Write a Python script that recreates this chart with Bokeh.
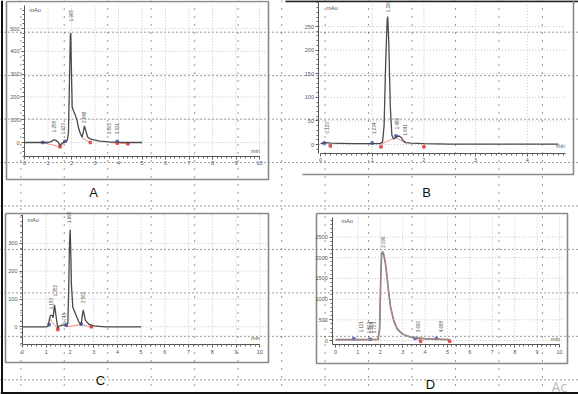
import numpy as np
from bokeh.plotting import figure
from bokeh.models import Range1d, LinearAxis, FixedTicker
from bokeh.core.properties import value
from bokeh.embed import file_html
from bokeh.resources import INLINE

# ---------------- data ----------------
a_time = [0, 1.0, 1.15, 1.25, 1.35, 1.45, 1.5, 1.58, 1.67, 1.75, 1.82, 1.87, 1.91, 1.95, 1.97, 2.0,
          2.03, 2.1, 2.17, 2.24, 2.31, 2.38, 2.45, 2.5, 2.55, 2.6, 2.69, 2.8, 2.95, 3.2, 3.6, 4.0, 4.5, 5.0]
a_mau = [0, 0, 5, 12, 9, 0, -13, -5, 1, 4, 10, 40, 250, 470, 480, 300,
         155, 135, 118, 95, 60, 38, 23, 45, 73, 55, 23, 16, 12, 6, 3, 1, 0, 0]
a_peak_rt = [1.25, 1.62, 1.96, 2.55, 3.60, 3.92]
a_peak_lbl = ["1.258", "1.623", "1.965", "2.548", "3.605", "3.921"]
a_peak_lbl_y = [70, 61, 557, 110, 61, 61]

b_time = [0, 0.1, 0.2, 0.6, 1.0, 1.15, 1.2, 1.23, 1.26, 1.29, 1.30, 1.32, 1.35, 1.38, 1.41,
          1.44, 1.48, 1.52, 1.56, 1.6, 1.65, 1.75, 2.0, 2.5, 3.0, 3.5, 4.0, 4.6]
b_mau = [2, 4, 3, 2, 2, 2, 5, 40, 170, 265, 271, 220, 80, 20, 12,
         13, 17, 18, 15, 8, 4, 3, 2, 1, 1, 1, 1, 1]
b_peak_rt = [0.12, 1.03, 1.296, 1.48, 1.64]
b_peak_lbl = ["0.123", "1.034", "1.296", "1.482", "1.641"]
b_peak_lbl_y = [35, 34, 292, 44, 31]

c_time = [0, 1.0, 1.08, 1.14, 1.18, 1.25, 1.29, 1.35, 1.42, 1.49, 1.53, 1.67, 1.84, 1.91, 1.95, 1.98,
          2.01, 2.04, 2.06, 2.12, 2.23, 2.37, 2.47, 2.52, 2.56, 2.65, 2.79, 3.0, 3.5, 5.0]
c_mau = [0, 0, 2, 29, 41, 41, 33, 79, 35, -7, 2, 6, 6, 12, 150, 300,
         349, 250, 155, 70, 47, 18, 7, 40, 61, 23, 10, 3, 0, 0]
c_peak_rt = [1.18, 1.35, 1.75, 1.96, 2.56]
c_peak_lbl = ["1.183", "1.352", "1.748", "1.995", "2.561"]
c_peak_lbl_y = [83, 130, 29, 394, 106]

d_time = [0, 1.0, 1.9, 1.97, 2.02, 2.06, 2.1, 2.15, 2.22, 2.3, 2.38, 2.46, 2.6, 2.75, 2.98, 3.35,
          3.95, 4.5, 5.1]
d_mau = [20, 20, 25, 300, 1500, 2100, 2150, 2080, 1900, 1550, 1130, 805, 480, 280, 160, 80,
         45, 30, 20]
d_peak_rt = [1.12, 1.5, 1.6, 1.7, 2.1, 3.69, 4.69]
d_peak_lbl = ["1.121", "1.502", "1.604", "1.703", "2.096", "3.690", "4.688"]
d_peak_lbl_y = [338, 314, 314, 314, 2375, 338, 338]

# integration baselines and markers
a_base_x = [[0.78, 1.51], [1.51, 1.75], [2.45, 2.8], [3.6, 4.4]]
a_base_y = [[0, -19], [-19, 3], [20, 0], [0, -6]]
a_start_x, a_start_y = [0.78, 1.72, 3.95], [0, 5, 5]
a_end_x, a_end_y = [1.51, 2.8, 3.95, 4.4], [-19, 0, -3, -6]

b_base_x = [[1.17, 1.45], [1.45, 1.65]]
b_base_y = [[0, 15], [15, 3]]
b_start_x, b_start_y = [0.07, 1.0, 1.46], [3, 3, 18]
b_end_x, b_end_y = [0.19, 1.17, 2.0], [-3, -5, -5]

c_base_x = [[1.14, 1.49], [1.84, 2.47], [2.47, 2.9]]
c_base_y = [[29, -8], [0, 8], [8, 0]]
c_start_x, c_start_y = [1.12, 1.84, 2.47], [8, 6, 10]
c_end_x, c_end_y = [1.49, 2.9], [-10, 0]

d_base_x = [[1.55, 1.95], [3.55, 3.8], [4.5, 5.1]]
d_base_y = [[30, 25], [50, 20], [50, 20]]
d_start_x, d_start_y = [0.82, 1.55, 3.55, 4.5], [40, 30, 50, 50]
d_end_x, d_end_y = [3.8, 5.1], [-20, -20]

x_ticks_10 = list(range(0, 11))
x_ticks_b = [0, 1, 2, 3, 4]
a_yticks = [0, 100, 200, 300, 400, 500]
b_yticks = [0, 50, 100, 150, 200, 250]
c_yticks = [0, 100, 200, 300]
d_yticks = [0, 500, 1000, 1500, 2000, 2500]

# ---------------- layout (page pixel geometry) ----------------
W, H = 578, 394
PX0, PX1, PY0, PY1 = 0, 578, 0, 394   # page pixels covered by the frame

p = figure(width=W, height=H, x_range=Range1d(PX0, PX1), y_range=Range1d(PY1, PY0),
           x_axis_type=None, y_axis_type=None, toolbar_location=None, output_backend="svg",
           min_border=0, outline_line_color=None, background_fill_color="white",
           border_fill_color="white")

# page dotted grid
gx = 20.3 + 43.47 * np.arange(13)
gy = 31.7 + 43.45 * np.arange(9)
p.segment(x0=gx, y0=[0] * len(gx), x1=gx, y1=[394] * len(gx), line_color="#222222",
          line_width=1, line_dash="1 7", line_alpha=0.9)
p.segment(x0=[0] * len(gy), y0=gy, x1=[578] * len(gy), y1=gy, line_color="#222222",
          line_width=1, line_dash="1 3", line_alpha=0.9)

# scanned page edges and watermark
p.line([1.5, 1.5], [0, 394], line_color="#111111", line_width=2)
p.line([0, 578], [392.5, 392.5], line_color="#111111", line_width=2)
p.line([285, 578], [0.8, 0.8], line_color="#222222", line_width=2)

FONT = "Liberation Sans"
p.text(x=[551], y=[386], text=["Ac"], text_font=value("Open Sans"), text_font_size="14px",
       text_color="#bdbdbd", text_align="left", text_baseline="alphabetic")

panels = [
    dict(n="A", t=a_time, y=a_mau, lt=a_peak_rt, lb=a_peak_lbl, ly=a_peak_lbl_y,
         bx=a_base_x, by=a_base_y, sx=a_start_x, sy=a_start_y, ex=a_end_x, ey=a_end_y,
         x0=24, kx=23.5, y0=142, ky=0.228, xay=-61, yax=0, xb=(0, 10), yb=(-61, 600),
         xt=x_ticks_10, yt=a_yticks, xm=0.2, ym=20, gxr=10.35,
         box=(6, 1, 268, 179), sides="all", letter=(93, 192), mau=(29, 9), mn=(255, 150)),
    dict(n="B", t=b_time, y=b_mau, lt=b_peak_rt, lb=b_peak_lbl, ly=b_peak_lbl_y,
         bx=b_base_x, by=b_base_y, sx=b_start_x, sy=b_start_y, ex=b_end_x, ey=b_end_y,
         x0=320, kx=51.7, y0=144, ky=0.472, xay=-18.5, yax=-0.03, xb=(0, 4.74), yb=(-18.5, 301),
         xt=x_ticks_b, yt=b_yticks, xm=0.1, ym=10, gxr=4.74,
         box=(302, 0, 573, 174), sides="br", letter=(426, 192), mau=(326, 7), mn=(560, 145)),
    dict(n="C", t=c_time, y=c_mau, lt=c_peak_rt, lb=c_peak_lbl, ly=c_peak_lbl_y,
         bx=c_base_x, by=c_base_y, sx=c_start_x, sy=c_start_y, ex=c_end_x, ey=c_end_y,
         x0=22, kx=23.73, y0=326.3, ky=0.278, xay=-64, yax=0, xb=(0, 10), yb=(-64, 404),
         xt=x_ticks_10, yt=c_yticks, xm=0.2, ym=20, gxr=10.35,
         box=(5, 213, 268, 362), sides="all", letter=(100, 380), mau=(27, 219), mn=(255, 337)),
    dict(n="D", t=d_time, y=d_mau, lt=d_peak_rt, lb=d_peak_lbl, ly=d_peak_lbl_y,
         bx=d_base_x, by=d_base_y, sx=d_start_x, sy=d_start_y, ex=d_end_x, ey=d_end_y,
         x0=335, kx=22.4, y0=340, ky=0.0414, xay=-97, yax=-0.12, xb=(-0.12, 10), yb=(-97, 2980),
         xt=x_ticks_10, yt=d_yticks, xm=0.2, ym=100, gxr=10.2,
         box=(316, 213, 567, 363), sides="all", letter=(430, 384), mau=(341, 220), mn=(555, 338)),
]

for c in panels:
    n = c["n"]
    xr, yr = "x" + n, "y" + n
    p.extra_x_ranges[xr] = Range1d((PX0 - c["x0"]) / c["kx"], (PX1 - c["x0"]) / c["kx"])
    p.extra_y_ranges[yr] = Range1d((c["y0"] - PY1) / c["ky"], (c["y0"] - PY0) / c["ky"])

    # panel frame (page pixels)
    l, t, r, b = c["box"]
    if c["sides"] == "all":
        p.line([l, r, r, l, l], [t, t, b, b, t], line_color="#8a8a8a", line_width=1.6)
    else:
        p.line([l, r, r], [b, b, t], line_color="#8a8a8a", line_width=1.6)

    # light chart grid
    xb0, xb1 = c["xb"]
    yb0, yb1 = c["yb"]
    vx = [v for v in c["xt"] if v > 0]
    p.segment(x0=vx, y0=[yb0] * len(vx), x1=vx, y1=[yb1] * len(vx),
              x_range_name=xr, y_range_name=yr, line_color="#c4c4c4", line_dash="1 2", line_width=1)
    p.segment(x0=[c["yax"]] * len(c["yt"]), y0=c["yt"], x1=[c["gxr"]] * len(c["yt"]), y1=c["yt"],
              x_range_name=xr, y_range_name=yr, line_color="#c4c4c4", line_dash="1 2", line_width=1)

    # integration baselines and markers
    p.multi_line(c["bx"], c["by"], x_range_name=xr, y_range_name=yr, line_color="#f08080",
                 line_width=0.9)
    p.scatter(c["sx"], c["sy"], x_range_name=xr, y_range_name=yr, marker="square", size=2.5,
              color="#5a6fd0")
    p.scatter(c["ex"], c["ey"], x_range_name=xr, y_range_name=yr, marker="square", size=2.5,
              color="#e05050")

    # chromatogram
    if n == "D":
        p.line(c["t"], c["y"], x_range_name=xr, y_range_name=yr, line_color="#6a6a6a", line_width=1.6)
        p.line(c["t"], c["y"], x_range_name=xr, y_range_name=yr, line_color="#e0a0a0", line_width=0.6)
    else:
        p.line(c["t"], c["y"], x_range_name=xr, y_range_name=yr, line_color="#4a4a4a", line_width=1.3)

    # peak retention-time labels
    p.text(x=c["lt"], y=c["ly"], text=c["lb"], x_range_name=xr, y_range_name=yr, angle=np.pi / 2,
           text_font=value(FONT), text_font_size="4.5px", text_color="#555555",
           text_align="center", text_baseline="middle")

    # axes
    minor_x = list(np.round(np.arange(0, xb1 + 1e-9, c["xm"]), 3))
    minor_y = list(np.round(np.arange(np.ceil(yb0 / c["ym"]) * c["ym"], yb1, c["ym"]), 3))
    xa = LinearAxis(x_range_name=xr, y_range_name=yr, fixed_location=c["xay"], bounds=c["xb"],
                    ticker=FixedTicker(ticks=c["xt"], minor_ticks=minor_x))
    ya = LinearAxis(x_range_name=xr, y_range_name=yr, fixed_location=c["yax"], bounds=c["yb"],
                    ticker=FixedTicker(ticks=c["yt"], minor_ticks=minor_y))
    for ax in (xa, ya):
        ax.axis_line_color = "#555555"
        ax.axis_line_width = 1
        ax.major_tick_line_color = "#555555"
        ax.minor_tick_line_color = "#666666"
        ax.major_tick_out = 3
        ax.major_tick_in = 0
        ax.minor_tick_out = 2
        ax.minor_tick_in = 0
        ax.major_label_text_font = FONT
        ax.major_label_text_font_size = "5.5px"
        ax.major_label_text_color = "#555555"
        ax.major_label_standoff = 2
    p.add_layout(xa, "below")
    p.add_layout(ya, "left")

    # unit labels and panel letter (page pixels)
    p.text(x=[c["mau"][0]], y=[c["mau"][1]], text=["mAu"], text_font=value(FONT),
           text_font_size="5.5px", text_color="#555555", text_align="left", text_baseline="middle")
    p.text(x=[c["mn"][0]], y=[c["mn"][1]], text=["min"], text_font=value(FONT),
           text_font_size="5.5px", text_color="#555555", text_align="center", text_baseline="middle")
    p.text(x=[c["letter"][0]], y=[c["letter"][1]], text=[n], text_font=value(FONT),
           text_font_size="13px", text_color="#111111", text_align="center", text_baseline="middle")

open("out.html", "w").write(file_html(p, INLINE))
